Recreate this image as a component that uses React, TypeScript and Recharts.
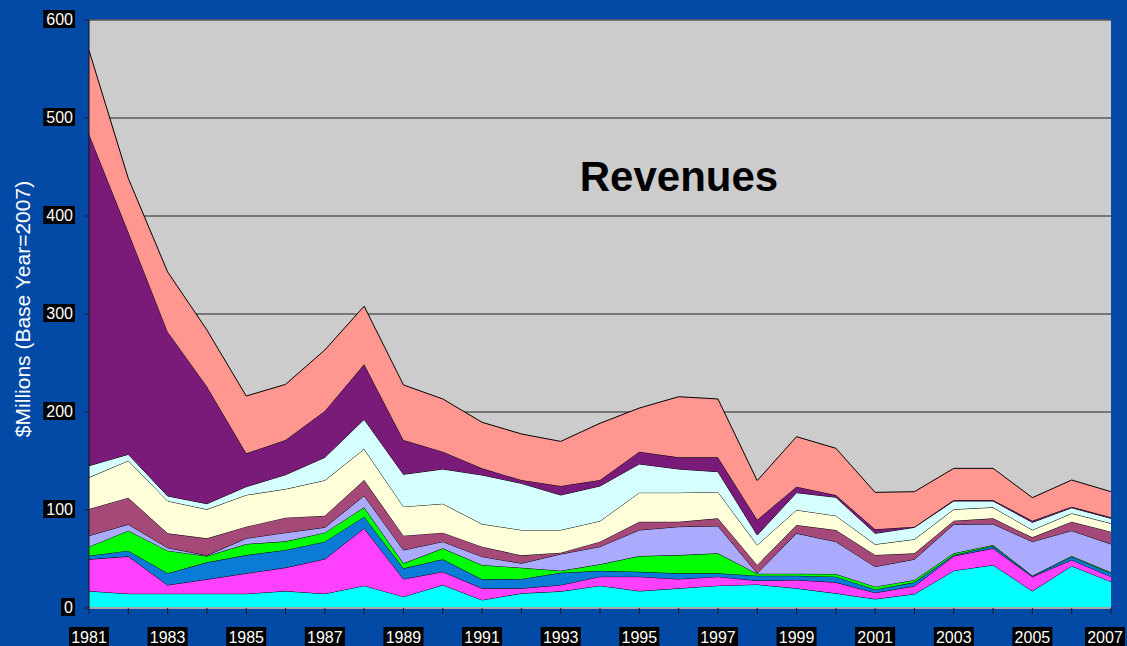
import React from 'react';
import { AreaChart, Area, XAxis, YAxis, CartesianGrid } from 'recharts';

// years on the x axis, labels shown every other year
const years = [
  '1981', '1982', '1983', '1984', '1985', '1986', '1987', '1988', '1989', '1990',
  '1991', '1992', '1993', '1994', '1995', '1996', '1997', '1998', '1999', '2000',
  '2001', '2002', '2003', '2004', '2005', '2006', '2007',
];

const yTicks = [0, 100, 200, 300, 400, 500, 600];

// stacked layers, bottom to top ($ millions)
const cyanLayer = [17.3, 14.6, 14.6, 14.6, 14.6, 17.3, 14.6, 22.8, 11.6, 23.5, 8.2, 15.0, 17.0, 22.8, 17.3, 20.1, 22.8, 24.0, 20.1, 15.0, 9.2, 14.3, 38.1, 43.9, 17.3, 42.9, 26.9];
const magentaLayer = [32.4, 38.1, 8.9, 14.7, 20.8, 23.9, 35.4, 58.5, 18.0, 13.5, 11.9, 5.1, 6.5, 9.2, 14.7, 9.5, 9.2, 4.0, 8.5, 11.2, 6.4, 8.1, 15.0, 17.0, 14.6, 6.1, 5.1];
const blueLayer = [3.7, 5.8, 11.9, 17.3, 18.6, 18.0, 17.7, 11.9, 10.9, 12.7, 9.2, 9.5, 12.5, 6.0, 5.0, 5.8, 3.4, 5.0, 4.4, 5.8, 3.4, 3.8, 1.0, 2.4, 0.7, 3.4, 3.4];
const greenLayer = [9.2, 20.4, 23.1, 6.4, 11.3, 8.8, 9.2, 9.5, 5.1, 11.2, 14.6, 11.5, 2.0, 6.6, 16.0, 18.6, 20.4, 2.0, 2.0, 2.7, 2.8, 2.4, 1.7, 1.0, 0.4, 0.7, 1.0];
const lavenderLayer = [11.2, 6.5, 3.0, 0.7, 5.8, 8.9, 5.4, 11.9, 13.6, 6.8, 8.5, 4.5, 17.1, 18.0, 26.6, 29.0, 27.9, 0.5, 41.2, 33.0, 20.4, 21.1, 29.6, 21.4, 34.7, 25.8, 28.9];
const mauveLayer = [27.2, 27.2, 14.7, 17.4, 11.9, 15.3, 11.9, 16.0, 14.6, 9.2, 10.2, 8.1, 1.4, 5.1, 8.4, 5.0, 7.8, 8.5, 8.5, 11.9, 11.9, 6.1, 3.7, 5.8, 4.4, 9.1, 12.6];
const creamLayer = [32.3, 37.7, 33.0, 29.6, 32.3, 29.2, 36.1, 31.6, 29.6, 29.5, 23.1, 25.9, 23.1, 21.1, 29.7, 29.7, 26.9, 20.3, 15.3, 14.6, 10.9, 14.3, 11.6, 11.2, 7.5, 8.6, 8.5];
const paleCyanLayer = [11.9, 6.5, 5.1, 5.7, 8.5, 14.6, 23.4, 30.3, 33.0, 35.4, 50.0, 47.6, 35.7, 35.7, 29.3, 24.1, 20.7, 10.2, 17.7, 18.8, 11.2, 12.2, 8.5, 6.5, 7.8, 5.7, 5.1];
const purpleLayer = [338.5, 226.8, 167.7, 119.6, 34.0, 35.4, 47.3, 56.1, 35.0, 17.7, 6.8, 3.4, 9.2, 6.1, 12.5, 11.9, 14.6, 15.5, 6.1, 2.3, 4.1, 0.7, 1.0, 1.0, 1.7, 1.1, 1.0];
const salmonLayer = [85.3, 54.8, 61.0, 57.7, 58.5, 56.8, 62.3, 59.4, 56.2, 53.8, 47.0, 47.0, 45.5, 57.9, 44.5, 61.9, 59.6, 40.0, 51.0, 47.7, 37.7, 35.7, 32.3, 32.3, 23.5, 27.2, 26.2];

const layers = [
  { key: 'cyan', values: cyanLayer, color: '#00FFFF' },
  { key: 'magenta', values: magentaLayer, color: '#FF40FF' },
  { key: 'blue', values: blueLayer, color: '#0A7BD6' },
  { key: 'green', values: greenLayer, color: '#00FF00' },
  { key: 'lavender', values: lavenderLayer, color: '#AAAAFF' },
  { key: 'mauve', values: mauveLayer, color: '#A54A78' },
  { key: 'cream', values: creamLayer, color: '#FFFFDA' },
  { key: 'paleCyan', values: paleCyanLayer, color: '#D6FFFF' },
  { key: 'purple', values: purpleLayer, color: '#7B1B79' },
  { key: 'salmon', values: salmonLayer, color: '#FF968F' },
];

const data = years.map((year, i) => {
  const row: Record<string, string | number> = { year };
  layers.forEach(l => { row[l.key] = l.values[i]; });
  return row;
});

const FONT = "'Liberation Sans', Arial, sans-serif";
const W = 1127;
const H = 646;

const YearTick = (props: any) => {
  const { x, y, payload, index } = props;
  if (index % 2 !== 0) return <g />;
  // keep the last label inside the picture
  const cx = Math.min(x, W - 22);
  return (
    <g>
      <rect x={cx - 20} y={y + 13} width={40} height={22} fill="#000" />
      <text x={cx} y={y + 29} textAnchor="middle" fill="#fff" fontSize={16} fontFamily={FONT}>
        {payload.value}
      </text>
    </g>
  );
};

const ValueTick = (props: any) => {
  const { x, y, payload } = props;
  const label = String(payload.value);
  const w = label.length * 8.9 + 5;
  return (
    <g>
      <rect x={x - 8 - w} y={y - 10} width={w} height={18} fill="#000" />
      <text x={x - 10} y={y + 5} textAnchor="end" fill="#fff" fontSize={16} fontFamily={FONT}>
        {label}
      </text>
    </g>
  );
};

export default function App() {
  return (
    <div style={{ position: 'relative', width: W, height: H, background: '#0349A6', overflow: 'hidden' }}>
      <style>{'body{margin:0}'}</style>
      <AreaChart width={W} height={H} data={data} margin={{ top: 20, right: 16, left: 0, bottom: 0 }}>
        <CartesianGrid vertical={false} fill="#CCCCCC" fillOpacity={1} stroke="#5a5a5a" strokeWidth={1.5} />
        <XAxis
          dataKey="year"
          interval={0}
          height={38}
          tickSize={6}
          tickMargin={0}
          axisLine={{ stroke: '#A8A8A8', strokeWidth: 2 }}
          tickLine={{ stroke: '#1a1a1a' }}
          tick={<YearTick />}
        />
        <YAxis
          type="number"
          domain={[0, 600]}
          ticks={yTicks}
          width={89}
          tickSize={6}
          tickMargin={0}
          axisLine={{ stroke: '#111' }}
          tickLine={{ stroke: '#1a2550' }}
          tick={<ValueTick />}
        />
        {layers.map(l => (
          <Area
            key={l.key}
            type="linear"
            dataKey={l.key}
            stackId="rev"
            fill={l.color}
            fillOpacity={1}
            stroke="#000"
            strokeWidth={1}
            dot={false}
            activeDot={false}
            isAnimationActive={false}
          />
        ))}
      </AreaChart>
      <svg width={W} height={H} style={{ position: 'absolute', left: 0, top: 0, pointerEvents: 'none' }}>
        <text x={679} y={191} textAnchor="middle" fontSize={42} fontWeight="bold" fill="#000" fontFamily={FONT}>
          Revenues
        </text>
        <text transform="translate(30,309) rotate(-90)" textAnchor="middle" fontSize={21} fill="#fff" fontFamily={FONT}>
          $Millions (Base Year=2007)
        </text>
      </svg>
    </div>
  );
}
